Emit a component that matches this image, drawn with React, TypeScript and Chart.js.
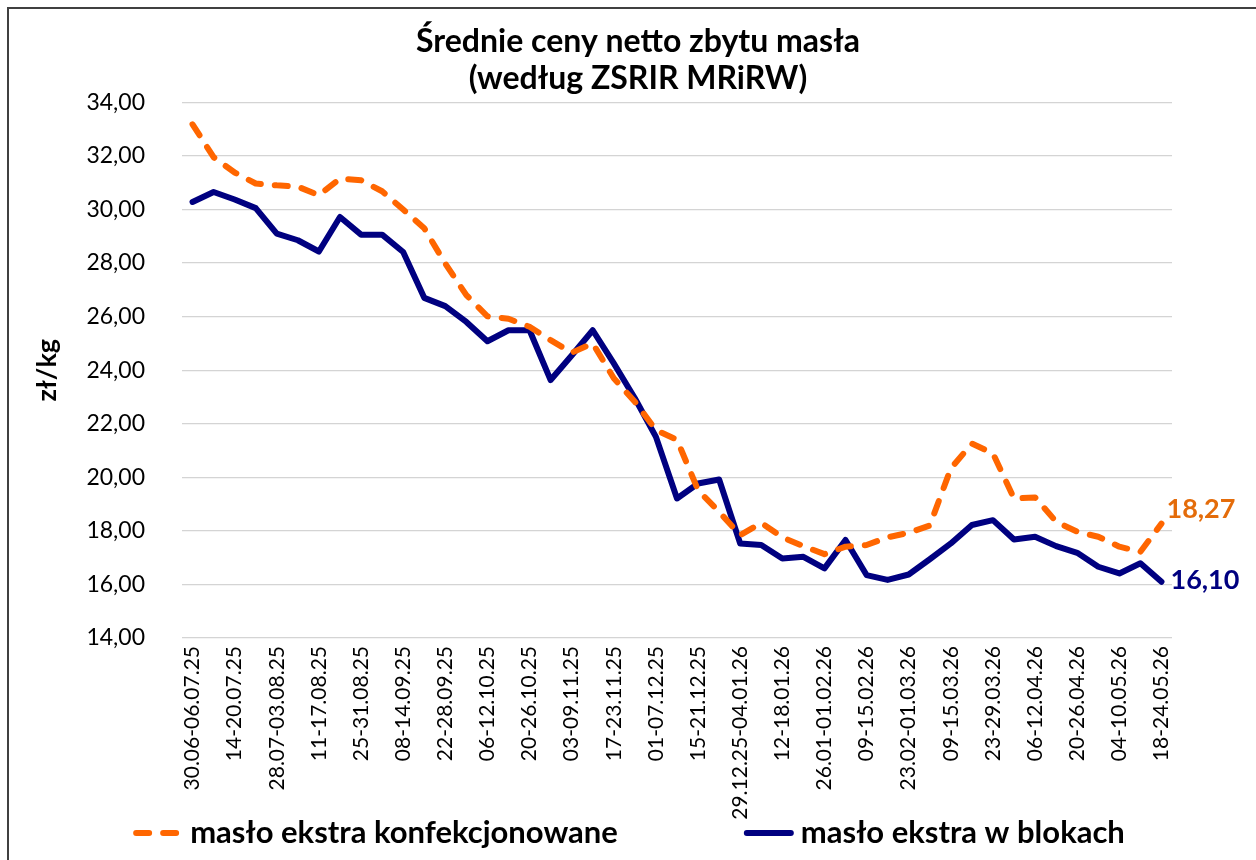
import React, { useEffect, useRef } from "react";
import { Chart, registerables } from "chart.js";

Chart.register(...registerables);

const weeks = [
  "30.06-06.07.25", "07-13.07.25", "14-20.07.25", "21-27.07.25", "28.07-03.08.25", "04-10.08.25",
  "11-17.08.25", "18-24.08.25", "25-31.08.25", "01-07.09.25", "08-14.09.25", "15-21.09.25",
  "22-28.09.25", "29.09-05.10.25", "06-12.10.25", "13-19.10.25", "20-26.10.25", "27.10-02.11.25",
  "03-09.11.25", "10-16.11.25", "17-23.11.25", "24-30.11.25", "01-07.12.25", "08-14.12.25",
  "15-21.12.25", "22-28.12.25", "29.12.25-04.01.26", "05-11.01.26", "12-18.01.26", "19-25.01.26",
  "26.01-01.02.26", "02-08.02.26", "09-15.02.26", "16-22.02.26", "23.02-01.03.26", "02-08.03.26",
  "09-15.03.26", "16-22.03.26", "23-29.03.26", "30.03-05.04.26", "06-12.04.26", "13-19.04.26",
  "20-26.04.26", "27.04-03.05.26", "04-10.05.26", "11-17.05.26", "18-24.05.26",
];

const konfekcjonowane = [
  33.18, 31.95, 31.38, 30.97, 30.9, 30.85, 30.53, 31.15, 31.09, 30.68, 30.0, 29.3,
  27.98, 26.8, 26.01, 25.92, 25.62, 25.12, 24.65, 25.0, 23.7, 22.82, 21.76, 21.4,
  19.52, 18.71, 17.84, 18.3, 17.76, 17.43, 17.13, 17.41, 17.47, 17.76, 17.93, 18.2,
  20.33, 21.26, 20.89, 19.21, 19.25, 18.34, 17.97, 17.78, 17.41, 17.22, 18.27,
];

const bloki = [
  30.28, 30.65, 30.37, 30.05, 29.1, 28.85, 28.43, 29.72, 29.06, 29.06, 28.41, 26.7,
  26.39, 25.8, 25.08, 25.49, 25.49, 23.63, 24.55, 25.49, 24.25, 22.95, 21.51, 19.21,
  19.77, 19.92, 17.53, 17.47, 16.97, 17.03, 16.6, 17.66, 16.35, 16.17, 16.37, 16.94,
  17.53, 18.22, 18.4, 17.68, 17.78, 17.43, 17.18, 16.66, 16.41, 16.79, 16.1,
];

const seriesNames = ["masło ekstra konfekcjonowane", "masło ekstra w blokach"];
const titleLines = ["Średnie ceny netto zbytu masła", "(według ZSRIR MRiRW)"];
const yAxisTitle = "zł/kg";
const yMin = 14;
const yMax = 34;
const yStep = 2;

const fmt = (v: number) => v.toFixed(2).replace(".", ",");

const endLabelPlugin = {
  id: "endLabels",
  afterDatasetsDraw(chart: any) {
    const { ctx } = chart;
    const styles = [
      { color: "#E46C0A", dx: 5, dy: -14 },
      { color: "#000080", dx: 9, dy: -1 },
    ];
    chart.data.datasets.forEach((ds: any, i: number) => {
      const meta = chart.getDatasetMeta(i);
      const last = meta.data.length - 1;
      const pt = meta.data[last];
      const st = styles[i];
      ctx.save();
      ctx.font = "bold 27px Lato";
      ctx.fillStyle = st.color;
      ctx.textAlign = "left";
      ctx.textBaseline = "middle";
      ctx.fillText(fmt(ds.data[last]), pt.x + st.dx, pt.y + st.dy);
      ctx.restore();
    });
  },
};

const legendPlugin = {
  id: "bottomLegend",
  afterDraw(chart: any) {
    const { ctx } = chart;
    const symW = 50;
    const symGap = 7;
    const itemGap = 126;
    const cy = 833;
    const cx = 629;
    ctx.save();
    ctx.font = "bold 31px Lato";
    const items = chart.data.datasets.map((ds: any) => ({
      ds,
      w: symW + symGap + ctx.measureText(ds.label).width,
    }));
    const total =
      items.reduce((a: number, it: any) => a + it.w, 0) + itemGap * (items.length - 1);
    let x = cx - total / 2;
    items.forEach(({ ds, w }: any) => {
      ctx.beginPath();
      ctx.setLineDash(ds.borderDash || []);
      ctx.lineCap = ds.borderCapStyle || "butt";
      ctx.lineWidth = ds.borderWidth;
      ctx.strokeStyle = ds.borderColor;
      ctx.moveTo(x + 3, cy);
      ctx.lineTo(x + symW - 3, cy);
      ctx.stroke();
      ctx.setLineDash([]);
      ctx.fillStyle = "#000";
      ctx.textAlign = "left";
      ctx.textBaseline = "middle";
      ctx.fillText(ds.label, x + symW + symGap, cy);
      x += w + itemGap;
    });
    ctx.restore();
  },
};

export default function App() {
  const ref = useRef<HTMLCanvasElement>(null);

  useEffect(() => {
    const chart = new Chart(ref.current as HTMLCanvasElement, {
      type: "line",
      data: {
        labels: weeks,
        datasets: [
          {
            label: seriesNames[0],
            data: konfekcjonowane,
            borderColor: "#FF6600",
            backgroundColor: "#FF6600",
            borderWidth: 6,
            borderDash: [13, 14],
            borderCapStyle: "round",
            borderJoinStyle: "round",
            pointRadius: 0,
            pointHoverRadius: 0,
            tension: 0,
            fill: false,
          },
          {
            label: seriesNames[1],
            data: bloki,
            borderColor: "#000080",
            backgroundColor: "#000080",
            borderWidth: 6,
            borderCapStyle: "round",
            borderJoinStyle: "round",
            pointRadius: 0,
            pointHoverRadius: 0,
            tension: 0,
            fill: false,
          },
        ],
      },
      options: {
        responsive: false,
        animation: false,
        devicePixelRatio: 1,
        layout: { padding: { top: 0, right: 0, bottom: 0, left: 20 } },
        plugins: {
          title: {
            display: true,
            text: titleLines,
            color: "#000",
            font: { family: "Lato", size: 32, weight: "bold", lineHeight: 1.13 },
            padding: { top: 24, bottom: 6 },
          },
          legend: { display: false },
          tooltip: { enabled: false },
        },
        scales: {
          x: {
            offset: true,
            grid: { display: false, drawTicks: false },
            border: { display: false },
            ticks: {
              autoSkip: false,
              maxRotation: 90,
              minRotation: 90,
              padding: 8,
              color: "#000",
              font: { family: "Lato", size: 21 },
              callback: function (this: any, value: any, index: number) {
                return index % 2 === 0 ? this.getLabelForValue(value) : "";
              },
            },
            afterFit: (s: any) => {
              s.height = 222;
            },
          },
          y: {
            min: yMin,
            max: yMax,
            grid: { color: "#D4D4D4", lineWidth: 1.2, drawTicks: false },
            border: { display: false },
            ticks: {
              stepSize: yStep,
              padding: 37,
              color: "#000",
              font: { family: "Lato", size: 23 },
              callback: (v: any) => fmt(Number(v)),
            },
            title: {
              display: true,
              text: yAxisTitle,
              color: "#000",
              font: { family: "Lato", size: 27, weight: "bold" },
              padding: { top: 11, bottom: 0 },
            },
            afterFit: (s: any) => {
              s.width = 162;
            },
          },
          yRight: {
            position: "right",
            display: true,
            grid: { display: false, drawTicks: false },
            border: { display: false },
            ticks: { display: false },
            afterFit: (s: any) => {
              s.width = 84;
            },
          },
        },
      },
      plugins: [endLabelPlugin, legendPlugin],
    } as any);
    return () => chart.destroy();
  }, []);

  return (
    <div
      style={{
        position: "absolute",
        left: 0,
        top: 0,
        width: 1256,
        height: 860,
        overflow: "hidden",
        background: "#fff",
      }}
    >
      <div
        style={{
          position: "absolute",
          left: 7,
          top: 7,
          width: 1249,
          height: 853,
          borderLeft: "2px solid #404040",
          borderTop: "2px solid #404040",
          boxSizing: "border-box",
        }}
      />
      <canvas
        ref={ref}
        width={1256}
        height={860}
        style={{ position: "absolute", left: 0, top: 0, width: 1256, height: 860 }}
      />
    </div>
  );
}
